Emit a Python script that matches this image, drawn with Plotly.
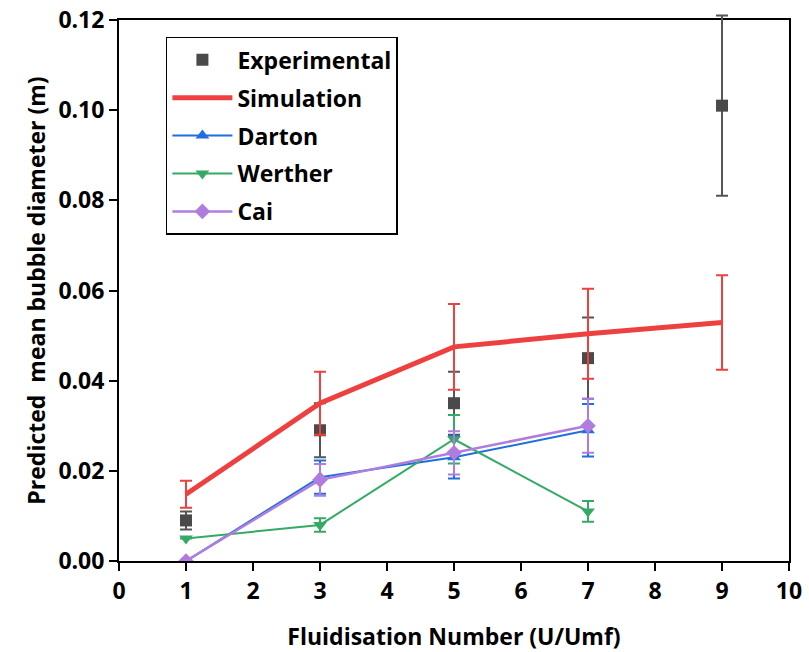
import plotly.graph_objects as go

x_exp = [1, 3, 5, 7, 9]
exp_y = [0.009, 0.029, 0.035, 0.045, 0.101]
exp_err = [0.002, 0.006, 0.007, 0.009, 0.020]

x_sim = [1, 3, 5, 7, 9]
sim_y = [0.0148, 0.035, 0.0475, 0.0504, 0.0529]
sim_err = [0.003, 0.007, 0.0095, 0.010, 0.0105]

x_mod = [1, 3, 5, 7]
darton_y = [0.0, 0.0186, 0.023, 0.029]
darton_err = [0.0, 0.0037, 0.0047, 0.0058]
werther_y = [0.005, 0.008, 0.027, 0.011]
werther_err = [0.0, 0.0015, 0.0054, 0.0023]
cai_y = [0.0, 0.018, 0.024, 0.030]
cai_err = [0.0, 0.0035, 0.0048, 0.006]

X_MAX = 10
Y_MAX = 0.12
Y_DRAW_MAX = 0.122  # data layer extends slightly above frame so caps aren't clipped

FONT = "Open Sans"
fig = go.Figure()

# empty trace so the framed main axes (xy) get drawn
fig.add_trace(go.Scatter(x=[], y=[], mode="markers", showlegend=False,
                         hoverinfo="skip", xaxis="x", yaxis="y"))

def eb(arr, color):
    return dict(type="data", array=arr, visible=True, color=color, thickness=2, width=6)

common = dict(xaxis="x2", yaxis="y2")
fig.add_trace(go.Scatter(x=x_exp, y=exp_y, mode="markers", name="Experimental",
                         marker=dict(symbol="square", size=12, color="#4a4a4a"),
                         error_y=eb(exp_err, "#555555"), legendgroup="a", **common))
fig.add_trace(go.Scatter(x=x_sim, y=sim_y, mode="lines", name="Simulation",
                         line=dict(color="#ef4040", width=5),
                         error_y=eb(sim_err, "#ef4040"), legendgroup="b", **common))
fig.add_trace(go.Scatter(x=x_mod, y=darton_y, mode="lines+markers", name="Darton",
                         line=dict(color="#1f6fde", width=2),
                         marker=dict(symbol="triangle-up", size=12, color="#1f6fde"),
                         error_y=eb(darton_err, "#1f6fde"), legendgroup="c", **common))
fig.add_trace(go.Scatter(x=x_mod, y=werther_y, mode="lines+markers", name="Werther",
                         line=dict(color="#35aa66", width=2),
                         marker=dict(symbol="triangle-down", size=12, color="#35aa66"),
                         error_y=eb(werther_err, "#35aa66"), legendgroup="d", **common))
fig.add_trace(go.Scatter(x=x_mod, y=cai_y, mode="lines+markers", name="Cai",
                         line=dict(color="#b07ddf", width=2.5),
                         marker=dict(symbol="diamond", size=12, color="#b07ddf"),
                         error_y=eb(cai_err, "#b07ddf"), legendgroup="e", **common))

axis_common = dict(showline=True, linecolor="black", linewidth=2, mirror=True,
                   ticks="outside", ticklen=8, tickwidth=2, tickcolor="black",
                   showgrid=False, zeroline=False, automargin=False,
                   tickfont=dict(family=FONT, size=23, color="black", weight="bold"))

fig.update_layout(
    width=809, height=652,
    margin=dict(l=119, r=20, t=11, b=91, autoexpand=False),
    plot_bgcolor="rgba(0,0,0,0)", paper_bgcolor="white",
    showlegend=True,
    xaxis=dict(range=[0, X_MAX], dtick=1, tick0=0, anchor="y",
               title=dict(text="Fluidisation Number (U/Umf)", standoff=24,
                          font=dict(family=FONT, size=23, color="black", weight="bold")),
               **axis_common),
    yaxis=dict(range=[0, Y_MAX], dtick=0.02, tick0=0, tickformat=".2f", anchor="x",
               domain=[0, Y_MAX / Y_DRAW_MAX],
               title=dict(text="Predicted  mean bubble diameter (m)", standoff=6,
                          font=dict(family=FONT, size=23, color="black", weight="bold")),
               **axis_common),
    xaxis2=dict(range=[0, X_MAX], anchor="y2", visible=False, domain=[0, 1], automargin=False),
    yaxis2=dict(range=[0, Y_DRAW_MAX], anchor="x2", visible=False, domain=[0, 1], automargin=False),
    legend=dict(x=0.07, y=0.953, xanchor="left", yanchor="top",
                bgcolor="white", bordercolor="black", borderwidth=1.5,
                font=dict(family=FONT, size=23, color="black", weight="bold"),
                traceorder="grouped", tracegroupgap=5, itemwidth=60),
)

fig.write_html("out.html")
